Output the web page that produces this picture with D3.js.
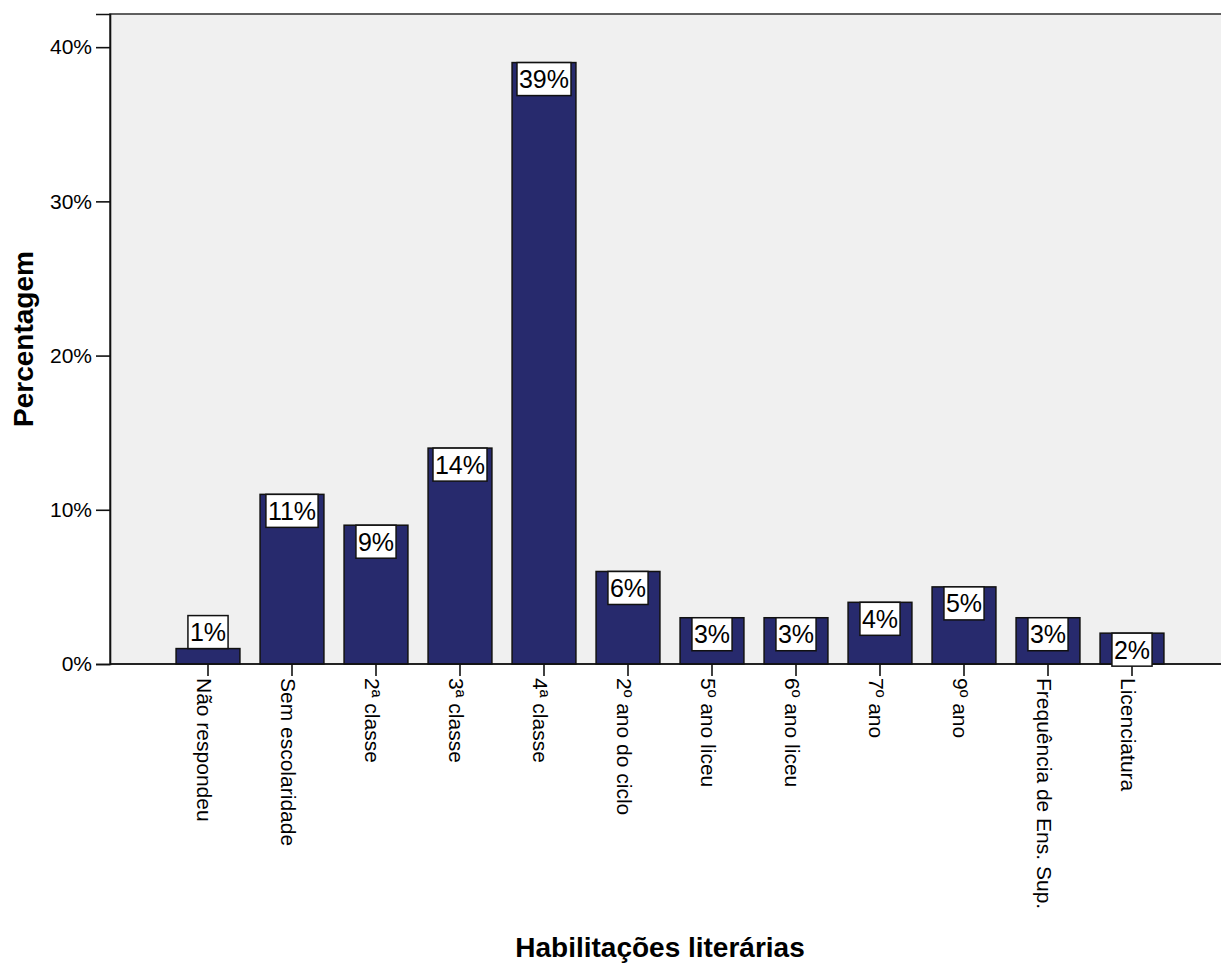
<!DOCTYPE html>
<html>
<head>
<meta charset="utf-8">
<script src="https://cdn.jsdelivr.net/npm/d3@7/dist/d3.min.js"></script>
<style>
  html, body { margin: 0; padding: 0; background: #ffffff; }
  svg { display: block; }
  text { font-family: Arial, "Liberation Sans", sans-serif; fill: #000; }
</style>
</head>
<body>
<svg id="chart" width="1221" height="965"></svg>
<script>
const categories = ["Não respondeu", "Sem escolaridade", "2ª classe", "3ª classe", "4ª classe",
  "2º ano do ciclo", "5º ano liceu", "6º ano liceu", "7º ano", "9º ano",
  "Frequência de Ens. Sup.", "Licenciatura"];
const percentages = [1, 11, 9, 14, 39, 6, 3, 3, 4, 5, 3, 2];
const yTickValues = [0, 10, 20, 30, 40];
const yTickLabels = ["0%", "10%", "20%", "30%", "40%"];
const xTitle = "Habilitações literárias";
const yTitle = "Percentagem";

const svg = d3.select("#chart");
const plot = { left: 110, top: 14, right: 1240, bottom: 664 };

const x = d3.scaleBand().domain(categories).range([166, 1174]).paddingInner(0.24).paddingOuter(0.12);
const y = d3.scaleLinear().domain([0, 42.15]).range([plot.bottom, plot.top]);

// plot background + frame
svg.append("rect")
  .attr("x", plot.left).attr("y", plot.top)
  .attr("width", plot.right - plot.left).attr("height", plot.bottom - plot.top)
  .attr("fill", "#f0f0f0").attr("stroke", "#3a3a3a").attr("stroke-width", 1.6);

// bars
svg.append("g").selectAll("rect").data(categories).join("rect")
  .attr("x", d => x(d))
  .attr("y", (d, i) => y(percentages[i]))
  .attr("width", x.bandwidth())
  .attr("height", (d, i) => y(0) - y(percentages[i]))
  .attr("fill", "#272a6d")
  .attr("stroke", "#111").attr("stroke-width", 1.5);

// y axis
const yAxis = d3.axisLeft(y).tickValues(yTickValues)
  .tickFormat((d, i) => yTickLabels[i]).tickSize(14).tickPadding(4);
const gy = svg.append("g").attr("transform", `translate(${plot.left},0)`).call(yAxis);
gy.select(".domain").attr("stroke", "#111").attr("stroke-width", 1.6);
gy.selectAll(".tick line").attr("stroke", "#111").attr("stroke-width", 1.6);
gy.selectAll(".tick text").attr("font-size", 21).attr("font-family", "Arial, 'Liberation Sans', sans-serif").attr("fill", "#111");

// x axis
const xAxis = d3.axisBottom(x).tickSize(12).tickPadding(0);
const gx = svg.append("g").attr("transform", `translate(0,${plot.bottom})`).call(xAxis);
gx.select(".domain").remove();
svg.append("line").attr("x1", plot.left).attr("x2", 1221)
  .attr("y1", plot.bottom).attr("y2", plot.bottom)
  .attr("stroke", "#111").attr("stroke-width", 1.6);
gx.selectAll(".tick line").attr("stroke", "#111").attr("stroke-width", 1.6);
gx.selectAll(".tick text")
  .attr("font-size", 21).attr("font-family", "Arial, 'Liberation Sans', sans-serif").attr("fill", "#111")
  .attr("text-anchor", "start")
  .attr("transform", "rotate(90)")
  .attr("x", 14).attr("y", 0).attr("dy", 11);

// value labels
const labels = svg.append("g");
categories.forEach((c, i) => {
  const v = percentages[i];
  const cx = x(c) + x.bandwidth() / 2;
  const barTop = y(v);
  const barH = y(0) - barTop;
  const boxH = 33;
  const boxTop = barH < 20 ? barTop - boxH : barTop;
  const g = labels.append("g");
  const rect = g.append("rect");
  const t = g.append("text")
    .attr("x", cx).attr("y", boxTop + boxH / 2)
    .attr("text-anchor", "middle").attr("dominant-baseline", "central")
    .attr("font-size", 25).attr("fill", "#111")
    .text(v + "%");
  const bb = t.node().getBBox();
  rect.attr("x", cx - bb.width / 2 - 2).attr("y", boxTop)
    .attr("width", bb.width + 4).attr("height", boxH)
    .attr("fill", "#ffffff").attr("stroke", "#111").attr("stroke-width", 1.5);
});

// titles
svg.append("text")
  .attr("transform", `translate(33,${(plot.top + plot.bottom) / 2}) rotate(-90)`)
  .attr("text-anchor", "middle").attr("font-size", 28).attr("font-weight", "bold")
  .text(yTitle);
svg.append("text")
  .attr("x", 660).attr("y", 957)
  .attr("text-anchor", "middle").attr("font-size", 28).attr("font-weight", "bold")
  .text(xTitle);
</script>
</body>
</html>
